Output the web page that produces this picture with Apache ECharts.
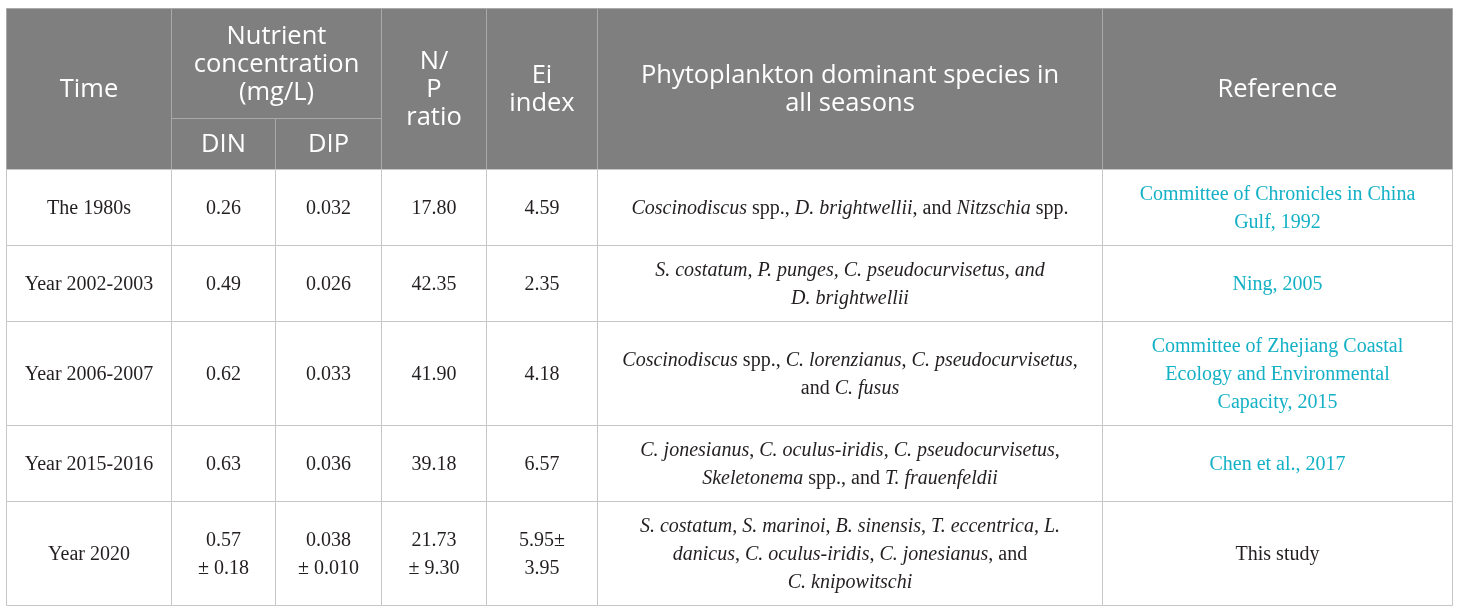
<!DOCTYPE html>
<html><head><meta charset="utf-8">
<script src="https://cdn.jsdelivr.net/npm/echarts@6/dist/echarts.min.js"></script>
<style>html,body{margin:0;padding:0;background:#fff}#c{width:1460px;height:613px}</style>
</head><body><div id="c"></div>
<script>
// ---- table content ----
const headerLabels = ['Time', 'Nutrient\nconcentration\n(mg/L)', 'DIN', 'DIP', 'N/\nP\nratio', 'Ei\nindex', 'Phytoplankton dominant species in\nall seasons', 'Reference'];
const times = ['The 1980s', 'Year 2002-2003', 'Year 2006-2007', 'Year 2015-2016', 'Year 2020'];
const din = ['0.26', '0.49', '0.62', '0.63', '0.57\n± 0.18'];
const dip = ['0.032', '0.026', '0.033', '0.036', '0.038\n± 0.010'];
const npRatio = ['17.80', '42.35', '41.90', '39.18', '21.73\n± 9.30'];
const eiIndex = ['4.59', '2.35', '4.18', '6.57', '5.95±\n3.95'];
const species = [
  '{i|Coscinodiscus} spp., {i|D. brightwellii}, and {i|Nitzschia} spp.',
  '{i|S. costatum, P. punges, C. pseudocurvisetus, and}\n{i|D. brightwellii}',
  '{i|Coscinodiscus} spp., {i|C. lorenzianus}, {i|C. pseudocurvisetus},\nand {i|C. fusus}',
  '{i|C. jonesianus}, {i|C. oculus-iridis}, {i|C. pseudocurvisetus},\n{i|Skeletonema} spp., and {i|T. frauenfeldii}',
  '{i|S. costatum}, {i|S. marinoi}, {i|B. sinensis}, {i|T. eccentrica}, {i|L.}\n{i|danicus}, {i|C. oculus-iridis}, {i|C. jonesianus}, and\n{i|C. knipowitschi}'
];
const references = ['Committee of Chronicles in China\nGulf, 1992', 'Ning, 2005', 'Committee of Zhejiang Coastal\nEcology and Environmental\nCapacity, 2015', 'Chen et al., 2017', 'This study'];
const referenceIsLink = [true, true, true, true, false];

// ---- layout (grid edges in page units) ----
const colEdges = [6, 171, 275, 381, 486, 597, 1102, 1452];
const headRowEdges = [8, 118, 169];
const bodyRowEdges = [169, 245, 321, 425, 501, 605];
// header spans: [labelIndex, c0, c1, r0, r1]
const headSpans = [[0,0,1,0,2],[1,1,3,0,1],[2,1,2,1,2],[3,2,3,1,2],[4,3,4,0,2],[5,4,5,0,2],[6,5,6,0,2],[7,6,7,0,2]];

const cells = [];
headSpans.forEach(s => {
  cells.push({x0: colEdges[s[1]], x1: colEdges[s[2]], y0: headRowEdges[s[3]], y1: headRowEdges[s[4]], text: headerLabels[s[0]], kind: 'head'});
});
const bodyCols = [times, din, dip, npRatio, eiIndex, species, references];
for (let r = 0; r < times.length; r++) {
  bodyCols.forEach((col, c) => {
    let kind = 'body';
    if (c === 6 && referenceIsLink[r]) kind = 'link';
    cells.push({x0: colEdges[c], x1: colEdges[c + 1], y0: bodyRowEdges[r], y1: bodyRowEdges[r + 1], text: col[r], kind: kind});
  });
}

const styles = {
  head: {fill: '#7f7f7f', stroke: '#a9a9a9', color: '#ffffff', font: '"Open Sans", "Noto Sans", sans-serif', size: 25.5, lh: 28},
  body: {fill: '#ffffff', stroke: '#c6c6c6', color: '#231f20', font: '"Liberation Serif", "DejaVu Serif", serif', size: 20, lh: 28},
  link: {fill: '#ffffff', stroke: '#c6c6c6', color: '#14b1c6', font: '"Liberation Serif", "DejaVu Serif", serif', size: 20, lh: 28}
};

const chart = echarts.init(document.getElementById('c'), null, {renderer: 'canvas'});
chart.setOption({
  animation: false,
  backgroundColor: '#ffffff',
  grid: {left: 0, right: 0, top: 0, bottom: 0},
  xAxis: {type: 'value', min: 0, max: 1460, show: false},
  yAxis: {type: 'value', min: 0, max: 613, inverse: true, show: false},
  series: [{
    type: 'custom',
    coordinateSystem: 'cartesian2d',
    clip: false,
    silent: true,
    data: cells.map((c, i) => [c.x0, c.x1, c.y0, c.y1, i]),
    renderItem: function (params, api) {
      const cell = cells[api.value(4)];
      const st = styles[cell.kind];
      const p0 = api.coord([api.value(0), api.value(2)]);
      const p1 = api.coord([api.value(1), api.value(3)]);
      const x = Math.round(p0[0]) + 0.5, y = Math.round(p0[1]) + 0.5;
      const w = Math.round(p1[0]) - Math.round(p0[0]);
      const h = Math.round(p1[1]) - Math.round(p0[1]);
      return {
        type: 'group',
        children: [
          {type: 'rect', shape: {x: x, y: y, width: w, height: h}, style: {fill: st.fill, stroke: st.stroke, lineWidth: 1}},
          {type: 'text', style: {
            text: cell.text, x: x + w / 2, y: y + h / 2 + 1, align: 'center', verticalAlign: 'middle',
            fontFamily: st.font, fontSize: st.size, lineHeight: st.lh, fill: st.color,
            rich: {i: {fontStyle: 'italic', fontFamily: st.font, fontSize: st.size, lineHeight: st.lh, fill: st.color}}
          }}
        ]
      };
    }
  }]
});
</script>
</body></html>
